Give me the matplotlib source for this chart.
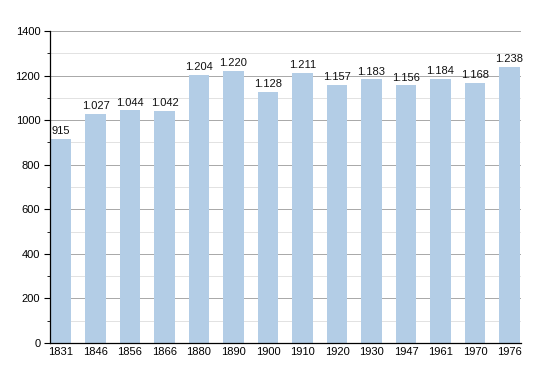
import numpy as np
import matplotlib
matplotlib.use('Agg')
import matplotlib.pyplot as plt
from matplotlib.ticker import MultipleLocator

plt.rcParams['font.family'] = ['Liberation Sans', 'DejaVu Sans']

years = ['1831', '1846', '1856', '1866', '1880', '1890', '1900',
         '1910', '1920', '1930', '1947', '1961', '1970', '1976']
population = [915, 1027, 1044, 1042, 1204, 1220, 1128,
              1211, 1157, 1183, 1156, 1184, 1168, 1238]
labels = ['915', '1.027', '1.044', '1.042', '1.204', '1.220', '1.128',
          '1.211', '1.157', '1.183', '1.156', '1.184', '1.168', '1.238']

fig = plt.figure(figsize=(5.5, 3.73), dpi=100)
ax = fig.add_axes([0.0909, 0.0804, 0.8561, 0.8365])

x = np.arange(len(years))
ax.bar(x, population, width=0.6, color='#b3cde6', zorder=2)
for xi, v, lab in zip(x, population, labels):
    ax.text(xi, v + 12, lab, ha='center', va='bottom', fontsize=8,
            color='#111111', zorder=3)

ax.set_xlim(-0.32, 13.33)
ax.set_ylim(0, 1400)
ax.set_xticks(x)
ax.set_xticklabels(years)
ax.yaxis.set_major_locator(MultipleLocator(200))
ax.yaxis.set_minor_locator(MultipleLocator(100))
ax.grid(axis='y', which='major', color='#a8a8a8', lw=0.7, zorder=0)
ax.grid(axis='y', which='minor', color='#e2e2e2', lw=0.7, zorder=0)
ax.tick_params(axis='x', length=0, labelsize=8, pad=3)
ax.tick_params(axis='y', which='major', length=4, labelsize=8, pad=3)
ax.tick_params(axis='y', which='minor', length=2.5)
for s in ['top', 'right']:
    ax.spines[s].set_visible(False)
ax.spines['left'].set_linewidth(0.9)
ax.spines['bottom'].set_linewidth(0.9)

fig.savefig('out.png', dpi=100)
